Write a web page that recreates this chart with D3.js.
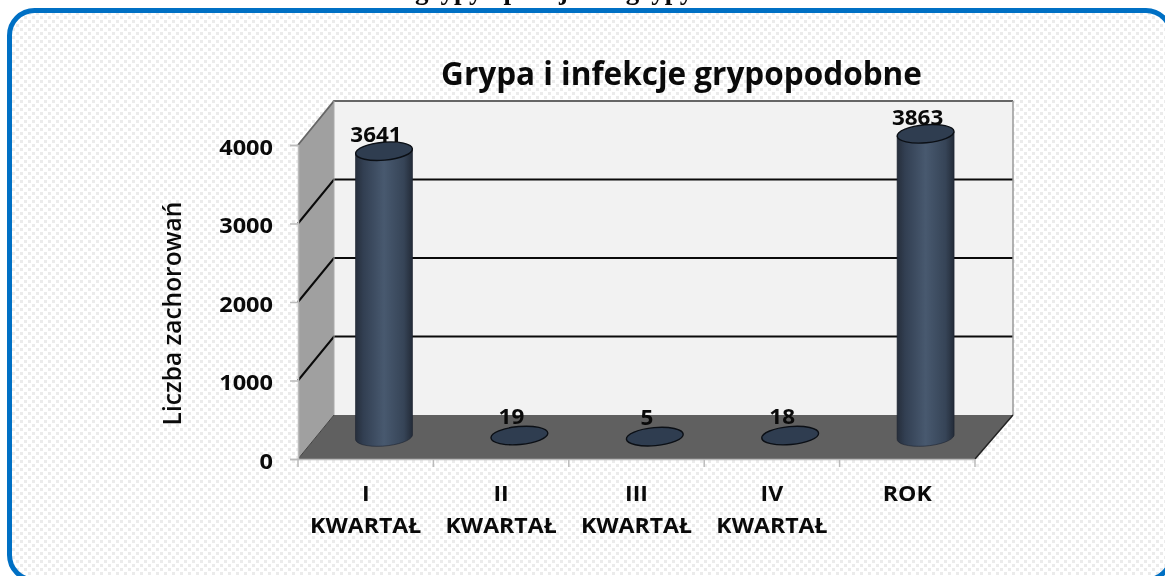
<!DOCTYPE html>
<html><head><meta charset="utf-8">
<script src="https://cdn.jsdelivr.net/npm/d3@7/dist/d3.min.js"></script>
<style>html,body{margin:0;padding:0;background:#fff;overflow:hidden}svg{display:block;filter:blur(0.35px)}
text{font-family:"Open Sans",sans-serif;fill:#0a0a0a}</style></head>
<body><svg id="c" width="1165" height="576"></svg>
<script>
const categories = ["I KWARTAŁ", "II KWARTAŁ", "III KWARTAŁ", "IV KWARTAŁ", "ROK"];
const values = [3641, 19, 5, 18, 3863];
const yTicks = [0, 1000, 2000, 3000, 4000];
const chartTitle = "Grypa i infekcje grypopodobne";
const yTitle = "Liczba zachorowań";
const clippedHeading = "grypy i podejrzeń grypy";

const svg = d3.select("#c");
const defs = svg.append("defs");

const pat = defs.append("pattern").attr("id","dots").attr("width",8).attr("height",8)
  .attr("patternUnits","userSpaceOnUse");
pat.append("rect").attr("width",8).attr("height",8).attr("fill","#fff");
[[0,0],[4,4]].forEach(([a,b])=>{
  pat.append("rect").attr("x",a).attr("y",b).attr("width",3).attr("height",3).attr("fill","#ebebeb");
});

const grad = defs.append("linearGradient").attr("id","cyl");
[[0,"#262e3b"],[0.14,"#323f52"],[0.5,"#48596f"],[0.85,"#364457"],[1,"#232b38"]].forEach(([o,c])=>{
  grad.append("stop").attr("offset",o).attr("stop-color",c);
});

// page frame
svg.append("rect").attr("x",9.5).attr("y",10.5).attr("width",1161.5).attr("height",569.5).attr("rx",25)
  .attr("fill","url(#dots)").attr("stroke","#0070c4").attr("stroke-width",5);

svg.append("text").text(clippedHeading).attr("x",415).attr("y",-1)
  .style("font-family",'"Liberation Serif",serif').style("font-weight",700).style("font-size","27px");

// 3D box geometry
const frontL = 298, frontR = 975, frontB = 459, frontT = 145, dx = 36, dy = -44;
const y = d3.scaleLinear().domain([0,4000]).range([frontB,frontT]);
const x = d3.scaleBand().domain(categories).range([frontL,frontR]);
const line = d3.line();

// back wall, side wall, floor
svg.append("path").attr("d",line([[frontL+dx,y(4000)+dy],[frontR+dx+2,y(4000)+dy],[frontR+dx+2,y(0)+dy],[frontL+dx,y(0)+dy]])+"Z")
  .attr("fill","#f2f2f2");
svg.append("path").attr("d",line([[frontL,y(4000)],[frontL+dx,y(4000)+dy],[frontL+dx,y(0)+dy],[frontL,y(0)]])+"Z")
  .attr("fill","#a0a0a0");
svg.append("path").attr("d",line([[frontL,y(0)],[frontL+dx,y(0)+dy],[frontR+dx+2,y(0)+dy],[frontR,y(0)]])+"Z")
  .attr("fill","#606060");

// gridlines
yTicks.filter(t=>t>0&&t<4000).forEach(t=>{
  svg.append("path").attr("fill","none").attr("stroke","#0a0a0a").attr("stroke-width",2)
    .attr("d",line([[frontL,y(t)],[frontL+dx,y(t)+dy],[frontR+dx+2,y(t)+dy]]));
});
// box edges
svg.append("path").attr("fill","none").attr("stroke","#666").attr("stroke-width",1.8)
  .attr("d",line([[frontL,y(4000)],[frontL+dx,y(4000)+dy],[frontR+dx+2,y(4000)+dy]]));
svg.append("path").attr("fill","none").attr("stroke","#999").attr("stroke-width",1.5)
  .attr("d",line([[frontR+dx+2,y(4000)+dy],[frontR+dx+2,y(0)+dy]]));
svg.append("path").attr("fill","none").attr("stroke","#aaa").attr("stroke-width",1)
  .attr("d",line([[frontL+dx,y(4000)+dy],[frontL+dx,y(0)+dy]]));
svg.append("path").attr("fill","none").attr("stroke","#222").attr("stroke-width",1.5)
  .attr("d",line([[frontR,y(0)],[frontR+dx+2,y(0)+dy]]));
svg.append("path").attr("fill","none").attr("stroke","#444").attr("stroke-width",1)
  .attr("d",line([[frontL,y(0)],[frontL+dx,y(0)+dy]]));
svg.append("path").attr("fill","none").attr("stroke","#bdbdbd").attr("stroke-width",1.5)
  .attr("d",line([[frontL,y(0)+.5],[frontR,y(0)+.5]]));

// axes
const axL = svg.append("g").attr("transform",`translate(${frontL},0)`)
  .call(d3.axisLeft(y).tickValues(yTicks).tickSize(8).tickPadding(15).tickFormat(d3.format("d")));
axL.select(".domain").attr("stroke","#bbb").attr("stroke-width",1.5);
axL.selectAll(".tick line").attr("stroke","#bbb").attr("stroke-width",1.5);
axL.selectAll(".tick text").each(function(){
  const t=d3.select(this);
  t.attr("dy",null).attr("y",9).attr("x",0).attr("text-anchor","end")
   .style("font-size","22px").style("font-weight",700)
   .attr("transform","translate(-25,0) scale(1.07,1)");
});
const axB = svg.append("g").attr("transform",`translate(0,${frontB})`)
  .call(d3.axisBottom(x).tickValues([]).tickSize(0));
axB.select(".domain").remove();
[...categories.map(c=>x(c)),frontR].forEach(p=>{
  axB.append("line").attr("x1",p).attr("x2",p).attr("y1",0).attr("y2",8).attr("stroke","#bbb").attr("stroke-width",1.5);
});
function label(txt,cx,base){
  svg.append("text").text(txt)
    .attr("transform",`translate(${cx},${base}) scale(1.05,1)`)
    .attr("text-anchor","middle").style("font-size","22px").style("font-weight",700);
}
categories.forEach(c=>{
  const cx = x(c)+x.bandwidth()/2;
  const parts = c.split(" ");
  label(parts[0],cx,501);
  if(parts[1]) label(parts[1],cx,533);
});

// cylinders
const w = 57, ry = 9, tilt = -5;
values.forEach((v,i)=>{
  const cx = x(categories[i])+x.bandwidth()/2+dx/2+.3;
  const by = y(0)+dy/2, ty = y(v)+dy/2;
  const rx = w/2;
  const g = svg.append("g");
  if(ty < by-4){
    const e = ry*0.2;
    g.append("path").attr("fill","url(#cyl)").attr("stroke","#1c2430").attr("stroke-width",.6)
      .attr("d",`M${cx-rx},${ty+e} L${cx-rx},${by+e} A${rx},${ry} ${tilt} 0 0 ${cx+rx},${by-e} L${cx+rx},${ty-e} Z`);
  }
  g.append("ellipse").attr("cx",cx).attr("cy",ty).attr("rx",rx).attr("ry",ry)
    .attr("transform",`rotate(${tilt} ${cx} ${ty})`)
    .attr("fill","#2f3d50").attr("stroke","#0b0f15").attr("stroke-width",1.4);
  svg.append("text").text(d3.format("d")(v))
    .attr("transform",`translate(${cx-8},${ty-(v>1000?9:11.5)}) scale(1.02,1)`)
    .attr("text-anchor","middle").style("font-size","22px").style("font-weight",700);
});

svg.append("text").text(chartTitle).attr("x",681.5).attr("y",85).attr("text-anchor","middle")
  .style("font-size","31.5px").style("font-weight",700);
svg.append("text").text(yTitle).attr("transform","translate(181,313.5) rotate(-90)").attr("text-anchor","middle")
  .style("font-size","24.5px").style("font-weight",600);
</script></body></html>
